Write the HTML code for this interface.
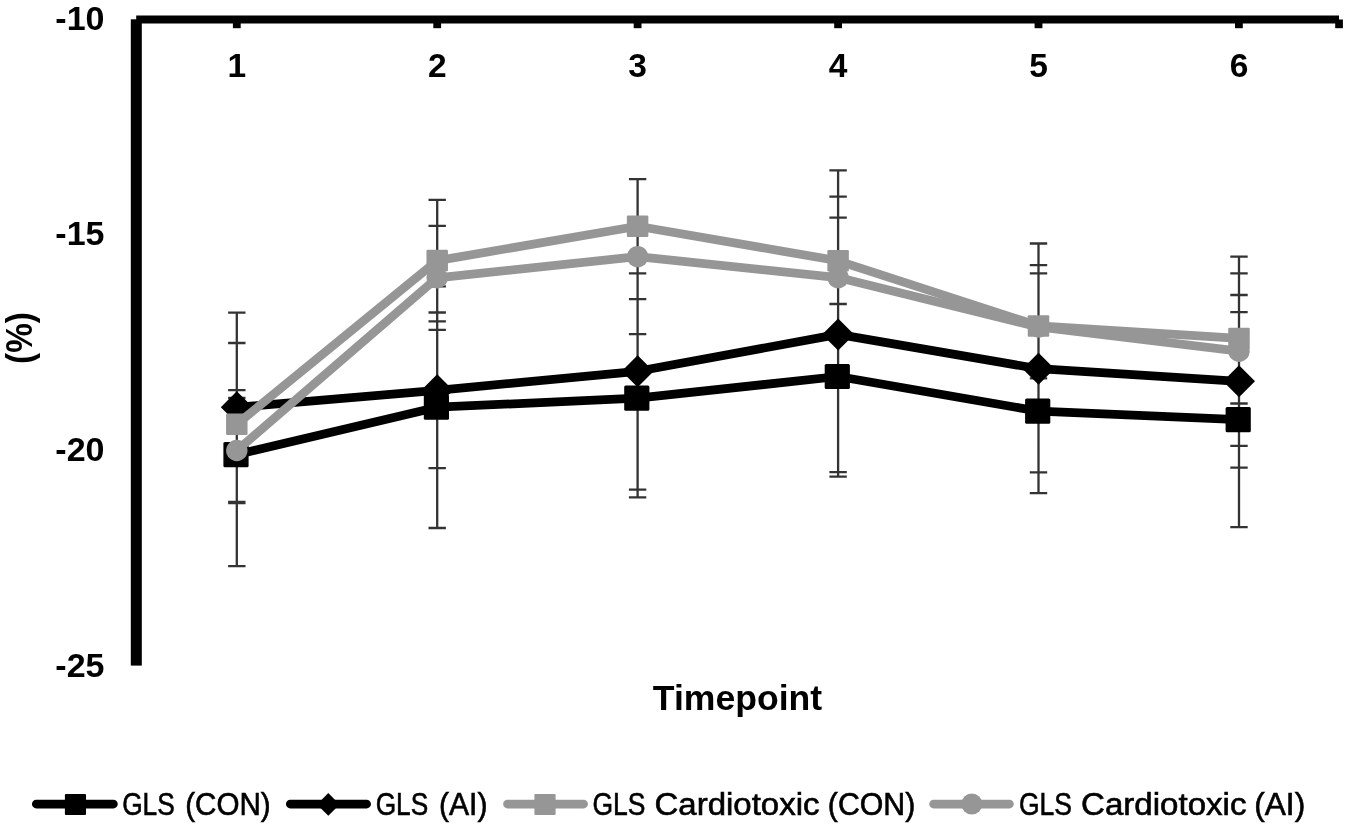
<!DOCTYPE html>
<html><head><meta charset="utf-8"><style>
html,body{margin:0;padding:0;background:#fff;}
svg{display:block;will-change:transform;}
text{font-family:"Liberation Sans",sans-serif;}
.b{font-weight:bold;}
</style></head><body>
<svg width="1350" height="832" viewBox="0 0 1350 832">
<rect width="1350" height="832" fill="#fff"/>
<!-- axes -->
<rect x="130.8" y="19.3" width="11" height="646.3" fill="#000"/>
<rect x="136.2" y="15.5" width="1202.8" height="8" fill="#000"/>
<g fill="#000">
<rect x="232.9" y="23" width="7.8" height="5.2"/>
<rect x="433.3" y="23" width="7.8" height="5.2"/>
<rect x="633.7" y="23" width="7.8" height="5.2"/>
<rect x="834.2" y="23" width="7.8" height="5.2"/>
<rect x="1034.6" y="23" width="7.8" height="5.2"/>
<rect x="1235.0" y="23" width="7.8" height="5.2"/>
<rect x="1335.2" y="19.5" width="7.7" height="8.7"/>
</g>
<!-- y labels -->
<g class="b" font-size="34" text-anchor="end" fill="#000">
<text x="104.5" y="30.1">-10</text>
<text x="104.5" y="245.4">-15</text>
<text x="104.5" y="460.7">-20</text>
<text x="104.5" y="676.8">-25</text>
</g>
<!-- x labels -->
<g class="b" font-size="33.5" text-anchor="middle" fill="#000">
<text x="236.8" y="76.7">1</text>
<text x="437.2" y="76.7">2</text>
<text x="637.6" y="76.7">3</text>
<text x="838.1" y="76.7">4</text>
<text x="1038.5" y="76.7">5</text>
<text x="1239.0" y="76.7">6</text>
</g>
<text class="b" x="737.5" y="710.3" font-size="35.6" text-anchor="middle">Timepoint</text>
<text class="b" transform="translate(31.5,338) rotate(-90)" font-size="37" text-anchor="middle" textLength="52" lengthAdjust="spacingAndGlyphs">(%)</text>
<path d="M236.8 343V566.2M228.1 343h17.4M228.1 566.2h17.4M437.2 286.4V528M428.5 286.4h17.4M428.5 528h17.4M637.6 299.1V497.3M628.9 299.1h17.4M628.9 497.3h17.4M838.1 276.3V476.7M829.4 276.3h17.4M829.4 476.7h17.4M1038.5 329.2V493.2M1029.8 329.2h17.4M1029.8 493.2h17.4M1239 312.2V527.2M1230.3 312.2h17.4M1230.3 527.2h17.4M236.8 312.7V501.9M228.1 312.7h17.4M228.1 501.9h17.4M437.2 312.5V468.1M428.5 312.5h17.4M428.5 468.1h17.4M637.6 252.9V489.7M628.9 252.9h17.4M628.9 489.7h17.4M838.1 196.6V472.2M829.4 196.6h17.4M829.4 472.2h17.4M1038.5 265.1V472.3M1029.8 265.1h17.4M1029.8 472.3h17.4M1239 295V467.6M1230.3 295h17.4M1230.3 467.6h17.4M236.8 390.1V458.3M228.1 390.1h17.4M228.1 458.3h17.4M437.2 199.9V321.3M428.5 199.9h17.4M428.5 321.3h17.4M637.6 179.1V273.3M628.9 179.1h17.4M628.9 273.3h17.4M838.1 217.6V304M829.4 217.6h17.4M829.4 304h17.4M1038.5 273.4V378.4M1029.8 273.4h17.4M1029.8 378.4h17.4M1239 273.3V403.5M1230.3 273.3h17.4M1230.3 403.5h17.4M236.8 398V503M228.1 398h17.4M228.1 503h17.4M437.2 225.8V329.8M428.5 225.8h17.4M428.5 329.8h17.4M637.6 179.1V334.1M628.9 179.1h17.4M628.9 334.1h17.4M838.1 170.3V384.9M829.4 170.3h17.4M829.4 384.9h17.4M1038.5 243.5V410.5M1029.8 243.5h17.4M1029.8 410.5h17.4M1239 256.6V445.8M1230.3 256.6h17.4M1230.3 445.8h17.4" stroke="#333333" stroke-width="2.3" fill="none"/>
<polyline points="236.8,454.6 437.2,407.2 637.6,398.2 838.1,376.5 1038.5,411.2 1239,419.7" fill="none" stroke="#000" stroke-width="8.75" stroke-linejoin="round" stroke-linecap="round"/>
<rect x="223.4" y="442" width="25.2" height="25.2" rx="1.5" fill="#000"/>
<rect x="423.8" y="394.6" width="25.2" height="25.2" rx="1.5" fill="#000"/>
<rect x="624.2" y="385.6" width="25.2" height="25.2" rx="1.5" fill="#000"/>
<rect x="824.7" y="363.9" width="25.2" height="25.2" rx="1.5" fill="#000"/>
<rect x="1025.1" y="398.6" width="25.2" height="25.2" rx="1.5" fill="#000"/>
<rect x="1225.6" y="407.1" width="25.2" height="25.2" rx="1.5" fill="#000"/>
<polyline points="236.8,407.3 437.2,390.3 637.6,371.3 838.1,334.4 1038.5,368.7 1239,381.3" fill="none" stroke="#000" stroke-width="8.75" stroke-linejoin="round" stroke-linecap="round"/>
<path d="M236.8 391.3L252.8 407.3L236.8 423.3L220.8 407.3Z" fill="#000"/>
<path d="M437.2 374.3L453.2 390.3L437.2 406.3L421.2 390.3Z" fill="#000"/>
<path d="M637.6 355.3L653.6 371.3L637.6 387.3L621.6 371.3Z" fill="#000"/>
<path d="M838.1 318.4L854.1 334.4L838.1 350.4L822.1 334.4Z" fill="#000"/>
<path d="M1038.5 352.7L1054.5 368.7L1038.5 384.7L1022.5 368.7Z" fill="#000"/>
<path d="M1239 365.3L1255 381.3L1239 397.3L1223 381.3Z" fill="#000"/>
<polyline points="236.8,424.2 437.2,260.6 637.6,226.2 838.1,260.8 1038.5,325.9 1239,338.4" fill="none" stroke="#969696" stroke-width="8.75" stroke-linejoin="round" stroke-linecap="round"/>
<rect x="226.05" y="413.45" width="21.5" height="21.5" rx="1.2" fill="#969696"/>
<rect x="426.45" y="249.85" width="21.5" height="21.5" rx="1.2" fill="#969696"/>
<rect x="626.85" y="215.45" width="21.5" height="21.5" rx="1.2" fill="#969696"/>
<rect x="827.35" y="250.05" width="21.5" height="21.5" rx="1.2" fill="#969696"/>
<rect x="1027.75" y="315.15" width="21.5" height="21.5" rx="1.2" fill="#969696"/>
<rect x="1228.25" y="327.65" width="21.5" height="21.5" rx="1.2" fill="#969696"/>
<polyline points="236.8,450.5 437.2,277.8 637.6,256.6 838.1,277.6 1038.5,327 1239,351.2" fill="none" stroke="#969696" stroke-width="8.75" stroke-linejoin="round" stroke-linecap="round"/>
<circle cx="236.8" cy="450.5" r="10.7" fill="#969696"/>
<circle cx="437.2" cy="277.8" r="10.7" fill="#969696"/>
<circle cx="637.6" cy="256.6" r="10.7" fill="#969696"/>
<circle cx="838.1" cy="277.6" r="10.7" fill="#969696"/>
<circle cx="1038.5" cy="327" r="10.7" fill="#969696"/>
<circle cx="1239" cy="351.2" r="10.7" fill="#969696"/>
<!-- legend -->
<g stroke-width="8.75" stroke-linecap="round" fill="none">
<path d="M36.3 804H113.4" stroke="#000"/>
<path d="M290.3 804H366.6" stroke="#000"/>
<path d="M507.5 804H583.6" stroke="#969696"/>
<path d="M933.6 804H1009.4" stroke="#969696"/>
</g>
<rect x="64.9" y="794" width="21.1" height="21.1" rx="1" fill="#000"/>
<path d="M328.3 793.1L339.6 804.4L328.3 815.7L317 804.4Z" fill="#000"/>
<rect x="534.4" y="794.1" width="21.2" height="21" rx="1" fill="#969696"/>
<circle cx="971.8" cy="804" r="10.5" fill="#969696"/>
<g font-size="31" fill="#000" stroke="#000" stroke-width="0.6">
<text x="122.2" y="814.5" textLength="52.5" lengthAdjust="spacingAndGlyphs">GLS</text>
<text x="185.2" y="814.5" textLength="85.5" lengthAdjust="spacingAndGlyphs">(CON)</text>
<text x="375.7" y="814.5" textLength="52.5" lengthAdjust="spacingAndGlyphs">GLS</text>
<text x="439" y="814.5" textLength="48.5" lengthAdjust="spacingAndGlyphs">(AI)</text>
<text x="592.5" y="814.5" textLength="53" lengthAdjust="spacingAndGlyphs">GLS</text>
<text x="654.5" y="814.5" textLength="165" lengthAdjust="spacingAndGlyphs">Cardiotoxic</text>
<text x="827.8" y="814.5" textLength="87.5" lengthAdjust="spacingAndGlyphs">(CON)</text>
<text x="1019" y="814.5" textLength="53" lengthAdjust="spacingAndGlyphs">GLS</text>
<text x="1081" y="814.5" textLength="165.5" lengthAdjust="spacingAndGlyphs">Cardiotoxic</text>
<text x="1254.2" y="814.5" textLength="51" lengthAdjust="spacingAndGlyphs">(AI)</text>
</g>
</svg>
</body></html>
